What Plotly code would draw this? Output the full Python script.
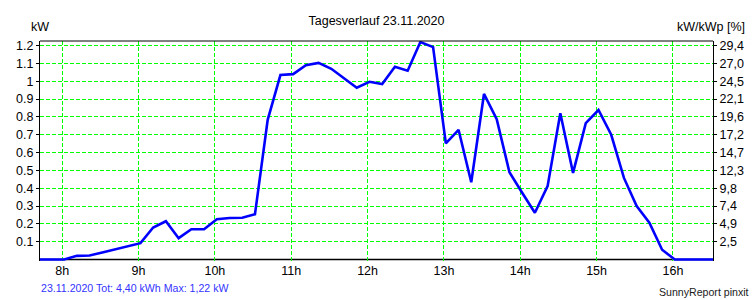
import plotly.graph_objects as go

# ---- data ----
times = [
    "07:41:30", "07:51:30", "08:01:30", "08:11:30", "08:21:30", "08:31:30", "08:41:30", "08:51:30",
    "09:01:30", "09:11:30", "09:21:30", "09:31:30", "09:41:30", "09:51:30",
    "10:01:30", "10:11:30", "10:21:30", "10:31:30", "10:41:30", "10:51:30",
    "11:01:30", "11:11:30", "11:21:30", "11:31:30", "11:41:30", "11:51:30",
    "12:01:30", "12:11:30", "12:21:30", "12:31:30", "12:41:30", "12:51:30",
    "13:01:30", "13:11:30", "13:21:30", "13:31:30", "13:41:30", "13:51:30",
    "14:01:30", "14:11:30", "14:21:30", "14:31:30", "14:41:30", "14:51:30",
    "15:01:30", "15:11:30", "15:21:30", "15:31:30", "15:41:30", "15:51:30",
    "16:01:30", "16:11:30", "16:21:30", "16:31:30",
]
power_kw = [
    0.0, 0.0, 0.0, 0.021, 0.023, 0.040, 0.057, 0.075,
    0.092, 0.180, 0.215, 0.120, 0.170, 0.170,
    0.226, 0.233, 0.235, 0.254, 0.784, 1.035,
    1.040, 1.090, 1.103, 1.070, 1.015, 0.964,
    0.997, 0.984, 1.081, 1.059, 1.220, 1.192,
    0.652, 0.728, 0.434, 0.929, 0.787, 0.490,
    0.375, 0.263, 0.412, 0.821, 0.486, 0.765,
    0.839, 0.700, 0.458, 0.300, 0.207, 0.055,
    0.0, 0.0, 0.0, 0.0,
]
hour_ticks = [8, 9, 10, 11, 12, 13, 14, 15, 16]
hour_labels = ["8h", "9h", "10h", "11h", "12h", "13h", "14h", "15h", "16h"]
kw_ticks = [0.1, 0.2, 0.3, 0.4, 0.5, 0.6, 0.7, 0.8, 0.9, 1.0, 1.1, 1.2]
kw_labels = ["0.1", "0.2", "0.3", "0.4", "0.5", "0.6", "0.7", "0.8", "0.9", "1", "1.1", "1.2"]
pct_labels = ["2,5", "4,9", "7,4", "9,8", "12,3", "14,7", "17,2", "19,6", "22,1", "24,5", "27,0", "29,4"]

title_text = "Tagesverlauf 23.11.2020"
footer_left = "23.11.2020 Tot: 4,40 kWh Max: 1,22 kW"
footer_right = "SunnyReport pinxit"


def to_hours(s):
    h, m, sec = (int(p) for p in s.split(":"))
    return h + m / 60 + sec / 3600


x_hours = [to_hours(t) for t in times]

FONT = "Liberation Sans, Arial, sans-serif"
GRID = "#00ff00"
YR = [-0.008, 1.226]
TOP, BOT = 41, 39
PH = 300 - TOP - BOT


def py(pix):
    """pixel row -> paper y"""
    return (300 - BOT - pix) / PH


fig = go.Figure()
fig.add_trace(go.Scatter(x=x_hours, y=power_kw, mode="lines",
                         line=dict(color="#0000ff", width=2.6),
                         hoverinfo="skip", showlegend=False))
fig.add_trace(go.Scatter(x=x_hours, y=power_kw, mode="lines", yaxis="y2",
                         line=dict(color="rgba(0,0,0,0)", width=0),
                         hoverinfo="skip", showlegend=False))

fig.update_layout(
    width=756, height=300,
    margin=dict(l=40, r=40, t=TOP, b=BOT),
    paper_bgcolor="white", plot_bgcolor="white",
    font=dict(family=FONT, size=12, color="#000000"),
    showlegend=False,
    title=dict(text=title_text, x=0.5, xref="paper", xanchor="center",
               y=1 - 20.7 / 300, yref="container", yanchor="middle",
               font=dict(family=FONT, size=12.5, color="#000000")),
    xaxis=dict(range=[7.709, 16.525], tickmode="array", tickvals=hour_ticks, ticktext=hour_labels,
               showgrid=True, gridcolor=GRID, gridwidth=1, griddash="4px,2px",
               zeroline=False, showline=False,
               ticks="", tickfont=dict(size=12.5)),
    yaxis=dict(range=YR, tickmode="array", tickvals=kw_ticks, ticktext=kw_labels,
               showgrid=True, gridcolor=GRID, gridwidth=1, griddash="4px,2px",
               zeroline=False, showline=True, linecolor="#000000", linewidth=1, mirror=True,
               ticks="outside", ticklen=3, tickcolor="#000000", tickfont=dict(size=12.5)),
    yaxis2=dict(range=YR, overlaying="y", side="right", tickmode="array",
                tickvals=kw_ticks, ticktext=pct_labels, showgrid=False, zeroline=False,
                showline=True, linecolor="#000000", linewidth=1,
                ticks="outside", ticklen=3, tickcolor="#000000", tickfont=dict(size=12.5)),
    shapes=[
        # bottom axis line at zero and top frame line
        dict(type="line", xref="paper", yref="y", x0=0, x1=1, y0=0, y1=0,
             line=dict(color="#000000", width=1.5), layer="between"),
        dict(type="line", xref="paper", yref="paper", x0=0, x1=1, y0=1, y1=1,
             line=dict(color="#000000", width=1), layer="above"),
    ],
    annotations=[
        dict(text="kW", xref="paper", yref="paper", x=0.0, y=py(27.3),
             xanchor="center", yanchor="middle", showarrow=False,
             font=dict(family=FONT, size=12.5, color="#000000")),
        dict(text="kW/kWp [%]", xref="paper", yref="paper", x=(750 - 40) / 676, y=py(27.3),
             xanchor="right", yanchor="middle", showarrow=False,
             font=dict(family=FONT, size=12.5, color="#000000")),
        dict(text=footer_left, xref="paper", yref="paper", x=-1 / 676, y=py(288.3),
             xanchor="left", yanchor="middle", showarrow=False,
             font=dict(family=FONT, size=10.6, color="#3333ff")),
        dict(text=footer_right, xref="paper", yref="paper", x=(754 - 40) / 676, y=py(291.7),
             xanchor="right", yanchor="middle", showarrow=False,
             font=dict(family=FONT, size=10.6, color="#1a1a1a")),
    ],
)

fig.write_html("out.html")
